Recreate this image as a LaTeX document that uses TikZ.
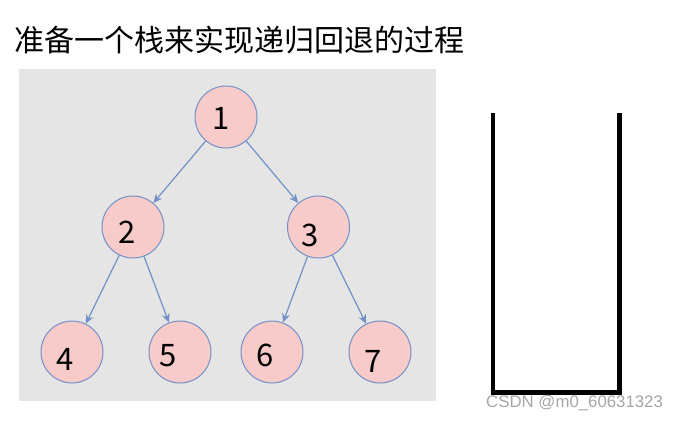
\documentclass[tikz,border=0pt]{standalone}
\usepackage{fontspec}
\setmainfont{Noto Sans CJK SC}
\newfontfamily\markfont{Liberation Sans}
\usetikzlibrary{arrows.meta,positioning}

\definecolor{panelgray}{HTML}{E5E5E5}
\definecolor{nodepink}{HTML}{F8CBCB}
\definecolor{edgeblue}{HTML}{7391C6}

\begin{document}
\begin{tikzpicture}[
		x=1pt, y=-1pt,
		tnode/.style={circle, draw=edgeblue, fill=nodepink, line width=1pt, minimum size=62pt, inner sep=0pt},
		num/.style={font=\fontsize{31}{31}\selectfont},
		arr/.style={-{Stealth[length=9pt,width=8pt]}, draw=edgeblue, line width=1.2pt},
		wall/.style={draw=black, line width=4.5pt}
		]
		\useasboundingbox (0,0) rectangle (677,421);
		
		\node[anchor=base west, font=\fontsize{30}{30}\selectfont, inner sep=0pt] (title) at (14,51) {准备一个栈来实现递归回退的过程};
		
		\fill[panelgray] (19,69) rectangle (436,401);
		
		\node[tnode] (n1) at (226,117) {};
		\node[tnode] (n2) at (133,227) {};
		\node[tnode] (n3) at (318.5,227) {};
		\node[tnode] (n4) at (72,352) {};
		\node[tnode] (n5) at (180,352) {};
		\node[tnode] (n6) at (272,352) {};
		\node[tnode] (n7) at (380,352) {};
		
		% digits sit a little off centre, as in the original
		\node[num] at (221,118) {1};
		\node[num] at (127,232) {2};
		\node[num] at (310,235) {3};
		\node[num] at (65,359) {4};
		\node[num] at (168,356) {5};
		\node[num] at (265,355) {6};
		\node[num] at (373,361) {7};
		
		\draw[arr] (n1) -- (n2);
		\draw[arr] (n1) -- (n3);
		\draw[arr] (n2) -- (n4);
		\draw[arr] (n2) -- (n5);
		\draw[arr] (n3) -- (n6);
		\draw[arr] (n3) -- (n7);
		
		% the empty stack
		\coordinate (sl) at (493,113);
		\coordinate (sr) at (619.5,113);
		\draw[wall] (sl) |- (619.5,392.5) -- (sr);
		
		\node[anchor=west, text=black!35, font=\markfont\fontsize{16.8}{16.8}\selectfont, inner sep=0pt] (mark) at (486,403.5) {CSDN @m0\_60631323};
		
\end{tikzpicture}
\end{document}
